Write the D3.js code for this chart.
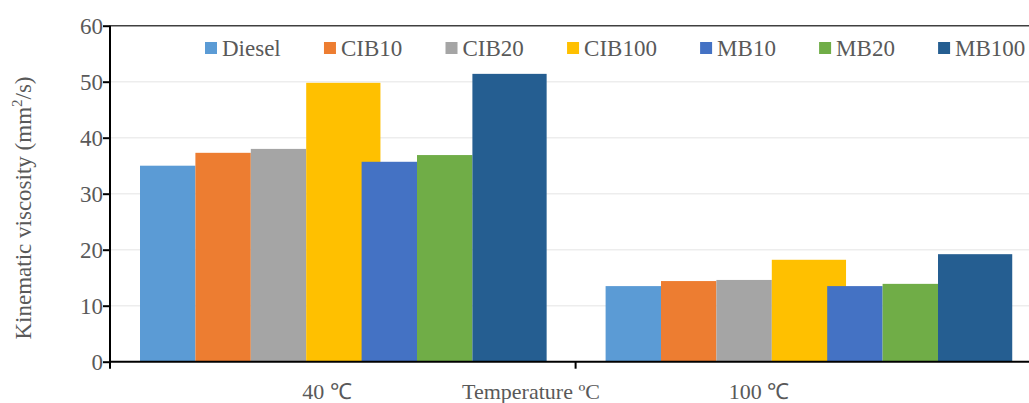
<!DOCTYPE html>
<html>
<head>
<meta charset="utf-8">
<script src="https://cdn.jsdelivr.net/npm/d3@7"></script>
<style>
  html, body { margin: 0; padding: 0; background: #fff; }
  svg { display: block; }
  text { font-family: "Liberation Serif", "Times New Roman", serif; fill: #595959; }
</style>
</head>
<body>
<svg id="chart" width="1029" height="403"></svg>
<script>
const categories = ["40 ℃", "100 ℃"];
const series = ["Diesel", "CIB10", "CIB20", "CIB100", "MB10", "MB20", "MB100"];
const values40 = [35.0, 37.3, 38.0, 49.8, 35.7, 36.9, 51.4];
const values100 = [13.5, 14.4, 14.6, 18.2, 13.5, 13.9, 19.2];
const yTicks = [0, 10, 20, 30, 40, 50, 60];
const seriesColors = ["#5B9BD5", "#ED7D31", "#A5A5A5", "#FFC000", "#4472C4", "#70AD47", "#255E91"];
const yTitle = "Kinematic viscosity (mm";
const xTitle = "Temperature ºC";

const valuesByCategory = [values40, values100];
const table = [];
categories.forEach((c, ci) => series.forEach((s, si) => table.push({cat: c, s, v: valuesByCategory[ci][si], color: seriesColors[si]})));

const svg = d3.select("#chart");
const y = d3.scaleLinear().domain([0, 60]).range([361.7, 25.7]);
const x0 = d3.scaleBand().domain(categories).range([110, 1041.2]).paddingInner(0).paddingOuter(0);
const x1 = d3.scaleBand().domain(series).range([30, 30 + 7 * 55.4]).padding(0);
const wide = new Set(["CIB100", "MB100"]);

// gridlines
svg.append("g").selectAll("line").data(yTicks.filter(t => t > 0 && t < 60)).join("line")
  .attr("x1", 110).attr("x2", 1029)
  .attr("y1", d => y(d)).attr("y2", d => y(d))
  .attr("stroke", "#EDEDED").attr("stroke-width", 1.5);

// top border
svg.append("line").attr("x1", 110).attr("x2", 1029).attr("y1", y(60)).attr("y2", y(60))
  .attr("stroke", "#404040").attr("stroke-width", 1.5);

// bars
svg.append("g").selectAll("rect").data(table).join("rect")
  .attr("x", d => x0(d.cat) + x1(d.s))
  .attr("width", d => x1.bandwidth() * (wide.has(d.s) ? 1.34 : 1))
  .attr("y", d => y(d.v))
  .attr("height", d => y(0) - y(d.v))
  .attr("fill", d => d.color);

// y axis
const yAxis = d3.axisLeft(y).tickValues(yTicks).tickSize(7).tickPadding(0);
const gy = svg.append("g").attr("transform", "translate(110,0)").call(yAxis)
  .attr("font-family", null).attr("font-size", null);
gy.select(".domain").attr("d", `M0,${y(60)}V${y(0) + 7}`).attr("stroke", "#000").attr("stroke-width", 2);
gy.selectAll(".tick line").attr("stroke", "#000").attr("stroke-width", 2);
gy.selectAll(".tick text").attr("font-size", 23).attr("fill", "#595959")
  .attr("dy", "0.33em");

// x axis
const gx = svg.append("g").attr("transform", `translate(0,${y(0)})`);
gx.append("line").attr("x1", 110).attr("x2", 1029).attr("stroke", "#000").attr("stroke-width", 2);
gx.selectAll("line.tk").data(categories.slice(1)).join("line").attr("class", "tk")
  .attr("x1", d => x0(d)).attr("x2", d => x0(d)).attr("y1", 0).attr("y2", 7)
  .attr("stroke", "#000").attr("stroke-width", 2);
const labelShift = [0.466, 0.394];
gx.selectAll("text.cl").data(categories).join("text").attr("class", "cl")
  .attr("x", (d, i) => x0(d) + x0.bandwidth() * labelShift[i])
  .attr("y", 37).attr("text-anchor", "middle").attr("font-size", 22).text(d => d);
svg.append("text").attr("x", 531).attr("y", y(0) + 37).attr("text-anchor", "middle")
  .attr("font-size", 22).text(xTitle);

// y title
const yt = svg.append("text").attr("transform", `translate(31,208) rotate(-90)`)
  .attr("text-anchor", "middle").attr("font-size", 23);
yt.append("tspan").text(yTitle);
yt.append("tspan").attr("font-size", 15).attr("dy", -9).text("2");
yt.append("tspan").attr("dy", 9).text("/s)");

// legend
const lg = svg.append("g");
let lx = 205;
series.forEach((s, i) => {
  lg.append("rect").attr("x", lx).attr("y", 42).attr("width", 12).attr("height", 12).attr("fill", seriesColors[i]);
  const t = lg.append("text").attr("x", lx + 17).attr("y", 55.5).attr("font-size", 23).text(s);
  lx += 17 + t.node().getComputedTextLength() + 43.2;
});
</script>
</body>
</html>
